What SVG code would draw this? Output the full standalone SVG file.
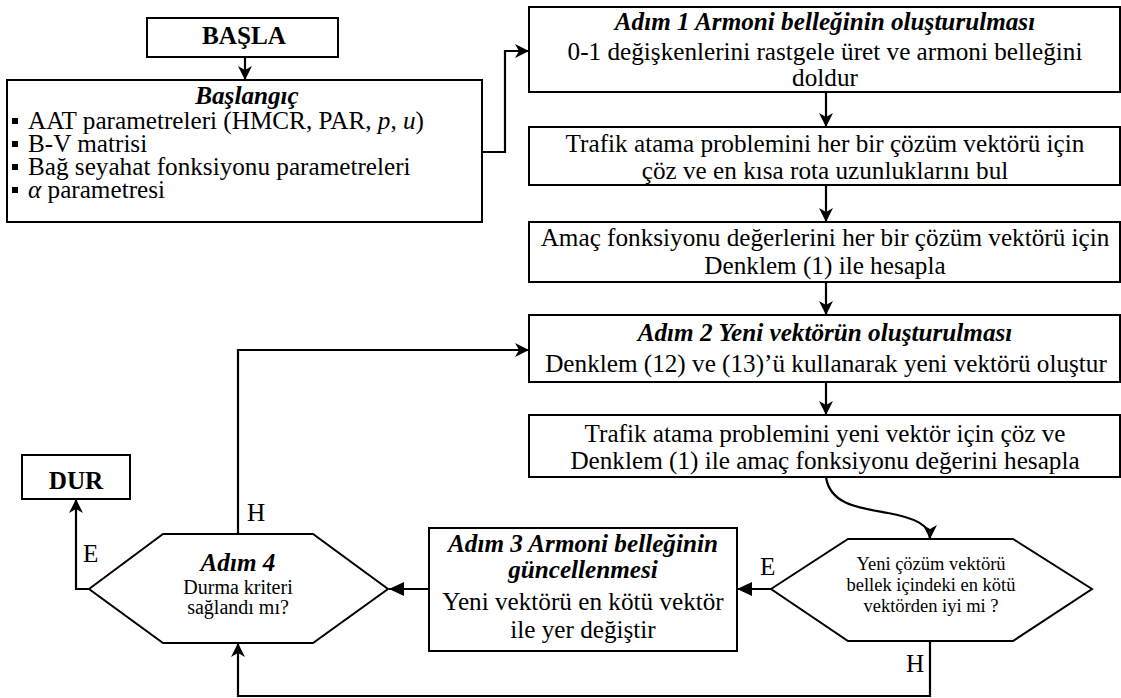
<svg xmlns="http://www.w3.org/2000/svg" width="1121" height="698" viewBox="0 0 1121 698">
<defs>
<style>
.box{fill:#fff;stroke:#000;stroke-width:2}
.t{font-family:"Liberation Serif","Times New Roman",serif;fill:#000;font-size:25.2px}
.c{text-anchor:middle}
.bi{font-weight:bold;font-style:italic}
.b{font-weight:bold}
.s{font-size:20px}
.xs{font-size:18.5px}
.ln{fill:none;stroke:#000;stroke-width:2.2}
</style>
<marker id="st" markerUnits="userSpaceOnUse" markerWidth="16" markerHeight="14" refX="14" refY="7" orient="auto">
<path d="M0,0 L14,7 L0,14 L4,7 z" fill="#000"/>
</marker>
<marker id="tri" markerUnits="userSpaceOnUse" markerWidth="16" markerHeight="14" refX="15" refY="7" orient="auto">
<path d="M0,0 L15,7 L0,14 z" fill="#000"/>
</marker>
</defs>
<rect width="1121" height="698" fill="#fff"/>

<g id="connectors">
<path class="ln" d="M245,57 V80" marker-end="url(#st)"/>
<path class="ln" d="M482,152 H505 V51 H529" marker-end="url(#st)"/>
<path class="ln" d="M826,92 V127" marker-end="url(#st)"/>
<path class="ln" d="M826,185 V222" marker-end="url(#st)"/>
<path class="ln" d="M826,282 V315" marker-end="url(#st)"/>
<path class="ln" d="M826,382 V415" marker-end="url(#st)"/>
<path class="ln" d="M826,477 C830,505 860,508 888,513 C915,518 930,525 930,539" marker-end="url(#st)"/>
<path class="ln" d="M771,589 H737" marker-end="url(#tri)"/>
<path class="ln" d="M429,589 H389" marker-end="url(#tri)"/>
<path class="ln" d="M238,534 V350 H529" marker-end="url(#st)"/>
<path class="ln" d="M89,589 H76 V499" marker-end="url(#st)"/>
<path class="ln" d="M930,641 V696 H238 V643" marker-end="url(#st)"/>
<text class="t" x="247" y="521" font-size="24">H</text>
<text class="t" x="83" y="562" font-size="24">E</text>
<text class="t" x="760" y="575" font-size="24">E</text>
<text class="t" x="906" y="672" font-size="24">H</text>
</g>

<g id="basla">
<rect class="box" x="147" y="18" width="191" height="39"/>
<text class="t b c" x="244" y="44">BAŞLA</text>
</g>

<g id="baslangic">
<rect class="box" x="7" y="80" width="475" height="142"/>
<text class="t bi c" x="247" y="104" font-size="25">Başlangıç</text>
<g class="t" font-size="25">
<rect x="12" y="118" width="6" height="6" fill="#000"/>
<text x="28" y="129">AAT parametreleri (HMCR, PAR, <tspan font-style="italic">p</tspan>, <tspan font-style="italic">u</tspan>)</text>
<rect x="12" y="141" width="6" height="6" fill="#000"/>
<text x="28" y="152">B-V matrisi</text>
<rect x="12" y="164" width="6" height="6" fill="#000"/>
<text x="28" y="175">Bağ seyahat fonksiyonu parametreleri</text>
<rect x="12" y="187" width="6" height="6" fill="#000"/>
<text x="28" y="198"><tspan font-style="italic">α</tspan> parametresi</text>
</g>
</g>

<g id="adim1">
<rect class="box" x="529" y="7" width="591" height="85"/>
<text class="t bi c" x="825" y="30">Adım 1 Armoni belleğinin oluşturulması</text>
<text class="t c" x="825" y="60">0-1 değişkenlerini rastgele üret ve armoni belleğini</text>
<text class="t c" x="825" y="86">doldur</text>
</g>

<g id="trafik1">
<rect class="box" x="529" y="127" width="591" height="58"/>
<text class="t c" x="825" y="152">Trafik atama problemini her bir çözüm vektörü için</text>
<text class="t c" x="825" y="179">çöz ve en kısa rota uzunluklarını bul</text>
</g>

<g id="amac">
<rect class="box" x="529" y="222" width="591" height="60"/>
<text class="t c" x="825" y="246">Amaç fonksiyonu değerlerini her bir çözüm vektörü için</text>
<text class="t c" x="825" y="274">Denklem (1) ile hesapla</text>
</g>

<g id="adim2">
<rect class="box" x="529" y="315" width="591" height="67"/>
<text class="t bi c" x="825" y="341">Adım 2 Yeni vektörün oluşturulması</text>
<text class="t c" x="826" y="372">Denklem (12) ve (13)’ü kullanarak yeni vektörü oluştur</text>
</g>

<g id="trafik2">
<rect class="box" x="529" y="415" width="591" height="62"/>
<text class="t c" x="825" y="442">Trafik atama problemini yeni vektör için çöz ve</text>
<text class="t c" x="825" y="469">Denklem (1) ile amaç fonksiyonu değerini hesapla</text>
</g>

<g id="karar1">
<polygon class="box" points="771,589 848,539 1013,539 1092,589 1013,641 848,641"/>
<text class="t c xs" x="931" y="570">Yeni çözüm vektörü</text>
<text class="t c xs" x="931" y="591">bellek içindeki en kötü</text>
<text class="t c xs" x="931" y="612">vektörden iyi mi ?</text>
</g>

<g id="adim3">
<rect class="box" x="429" y="528" width="308" height="123"/>
<text class="t bi c" x="583" y="552">Adım 3 Armoni belleğinin</text>
<text class="t bi c" x="583" y="578">güncellenmesi</text>
<text class="t c" x="583" y="610">Yeni vektörü en kötü vektör</text>
<text class="t c" x="583" y="638">ile yer değiştir</text>
</g>

<g id="adim4">
<polygon class="box" points="89,589 163,534 313,534 388,589 313,643 163,643"/>
<text class="t bi c" x="238" y="571">Adım 4</text>
<text class="t c s" x="238" y="594">Durma kriteri</text>
<text class="t c s" x="238" y="614">sağlandı mı?</text>
</g>

<g id="dur">
<rect class="box" x="22" y="455" width="108" height="44"/>
<text class="t b c" x="76" y="489">DUR</text>
</g>
</svg>
